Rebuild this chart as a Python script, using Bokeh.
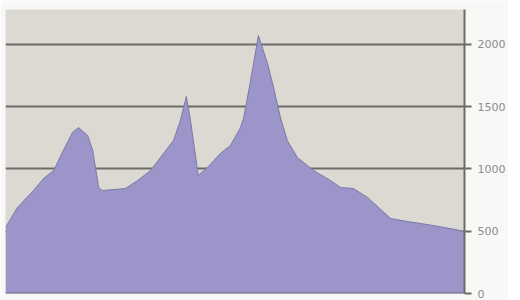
from bokeh.plotting import figure
from bokeh.models import Range1d, FixedTicker
from bokeh.embed import file_html
from bokeh.resources import INLINE

# distance along the profile (arbitrary units 0-100) and elevation
distance = [0, 2.6, 6.1, 8.3, 10.5, 12.6, 14.6, 15.9, 17.9, 19.0, 20.3, 21.1,
            26.1, 28.8, 31.6, 34.4, 36.6, 38.1, 39.4, 40.3, 42.0, 44.0, 46.8,
            49.0, 51.2, 51.9, 53.4, 55.1, 57.1, 58.4, 59.9, 61.4, 63.6, 67.1,
            70.8, 73.0, 75.8, 78.9, 83.9, 87.6, 93.2, 99.1, 100]
elevation = [530, 691, 827, 924, 988, 1149, 1293, 1333, 1269, 1149, 851, 827,
             843, 908, 988, 1124, 1229, 1390, 1582, 1390, 948, 1012, 1124,
             1189, 1333, 1414, 1711, 2072, 1847, 1655, 1414, 1229, 1092, 988,
             908, 851, 843, 771, 602, 578, 546, 506, 490]
y_ticks = [0, 500, 1000, 1500, 2000]
baseline = [0]

p = figure(frame_width=459, frame_height=284, output_backend="svg",
           toolbar_location=None,
           x_axis_location=None, y_axis_location="right",
           x_range=Range1d(0, 100), y_range=Range1d(0, 2281),
           min_border_left=5, min_border_top=9, min_border_bottom=7,
           min_border_right=2)

p.background_fill_color = "#dcd8d2"
p.border_fill_color = "#f8f8f6"
p.outline_line_color = None

p.varea(x=distance, y1=0, y2=elevation, fill_color="#9b95c9")
p.line(x=distance, y=elevation, line_color="#7d78a6", line_width=1)
p.hspan(y=baseline, line_color="#77738e", line_width=2)

p.xgrid.visible = False
p.ygrid.ticker = FixedTicker(ticks=y_ticks)
p.ygrid.grid_line_color = "#6e6a66"
p.ygrid.grid_line_width = 2

ax = p.yaxis[0]
ax.ticker = FixedTicker(ticks=y_ticks)
ax.axis_line_color = "#6e6a66"
ax.axis_line_width = 2
ax.major_tick_line_color = "#6e6a66"
ax.major_tick_line_width = 2
ax.major_tick_out = 7
ax.major_tick_in = 0
ax.minor_tick_line_color = None
ax.major_label_standoff = 6
ax.major_label_text_font = "DejaVu Sans"
ax.major_label_text_font_size = "11px"
ax.major_label_text_color = "#8c8c8c"

open("out.html", "w").write(file_html(p, INLINE))
